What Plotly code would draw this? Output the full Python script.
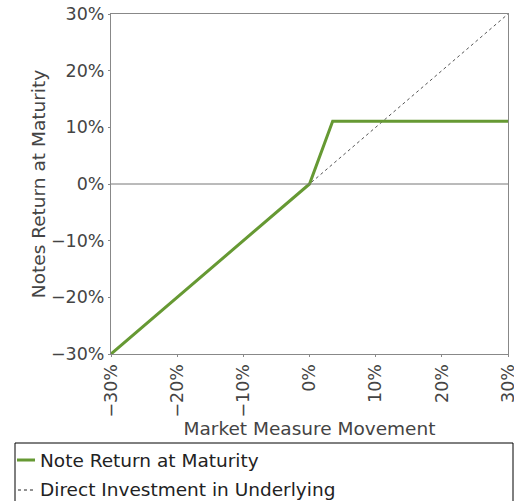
import plotly.graph_objects as go

# Data
note_name = "Note Return at Maturity"
direct_name = "Direct Investment in Underlying"
note_x = [-30, 0, 3.5, 30]
note_y = [-30, 0, 11.06, 11.06]
direct_x = [-30, 30]
direct_y = [-30, 30]
tick_vals = [-30, -20, -10, 0, 10, 20, 30]
tick_text = ["\u221230%", "\u221220%", "\u221210%", "0%", "10%", "20%", "30%"]

font_color = "#444444"
green = "#669933"
fig = go.Figure()
fig.add_trace(go.Scatter(x=direct_x, y=direct_y, mode="lines", name=direct_name,
                         line=dict(color="#555555", width=1, dash="dot"), showlegend=False))
fig.add_trace(go.Scatter(x=note_x, y=note_y, mode="lines", name=note_name,
                         line=dict(color=green, width=3), showlegend=False))

axis_common = dict(range=[-30, 30], tickmode="array", tickvals=tick_vals, ticktext=tick_text,
                   showgrid=False, showline=True, linecolor="#888888", linewidth=1, mirror=True,
                   ticks="outside", ticklen=2, tickcolor="#888888", ticklabeloverflow="allow",
                   automargin=False,
                   tickfont=dict(size=17.5, color=font_color), zeroline=False)

fig.update_xaxes(**axis_common, tickangle=-90,
                 title=dict(text="Market Measure Movement", font=dict(size=18.5, color=font_color), standoff=0))
fig.update_yaxes(**axis_common,
                 title=dict(text="Notes Return at Maturity", font=dict(size=18.5, color=font_color), standoff=0))

fig.add_hline(y=0, line=dict(color="#777777", width=1))

# Manual legend (box, symbols, labels)
fig.add_shape(type="rect", xref="paper", yref="paper", x0=-0.2418, x1=1.0126, y0=-0.2618, y1=-0.46,
              line=dict(color="black", width=1), layer="above")
fig.add_shape(type="line", xref="paper", yref="paper", x0=-0.2368, x1=-0.1914, y0=-0.3118, y1=-0.3118,
              line=dict(color=green, width=3))
fig.add_shape(type="line", xref="paper", yref="paper", x0=-0.2343, x1=-0.1914, y0=-0.4, y1=-0.4,
              line=dict(color="#222222", width=1, dash="dot"))
for name, yy in [(note_name, -0.3118), (direct_name, -0.4)]:
    fig.add_annotation(text=name, xref="paper", yref="paper", x=-0.1839, y=yy, xanchor="left",
                       yanchor="middle", showarrow=False, font=dict(size=18.5, color="#222222"))

fig.update_layout(
    width=514, height=501,
    margin=dict(l=111, r=6, t=14, b=147, autoexpand=False),
    paper_bgcolor="white", plot_bgcolor="white",
    font=dict(family="DejaVu Sans", color=font_color),
    showlegend=False,
)

fig.write_html("out.html", config={"displayModeBar": False},
               post_script="document.body.style.margin='0';")
